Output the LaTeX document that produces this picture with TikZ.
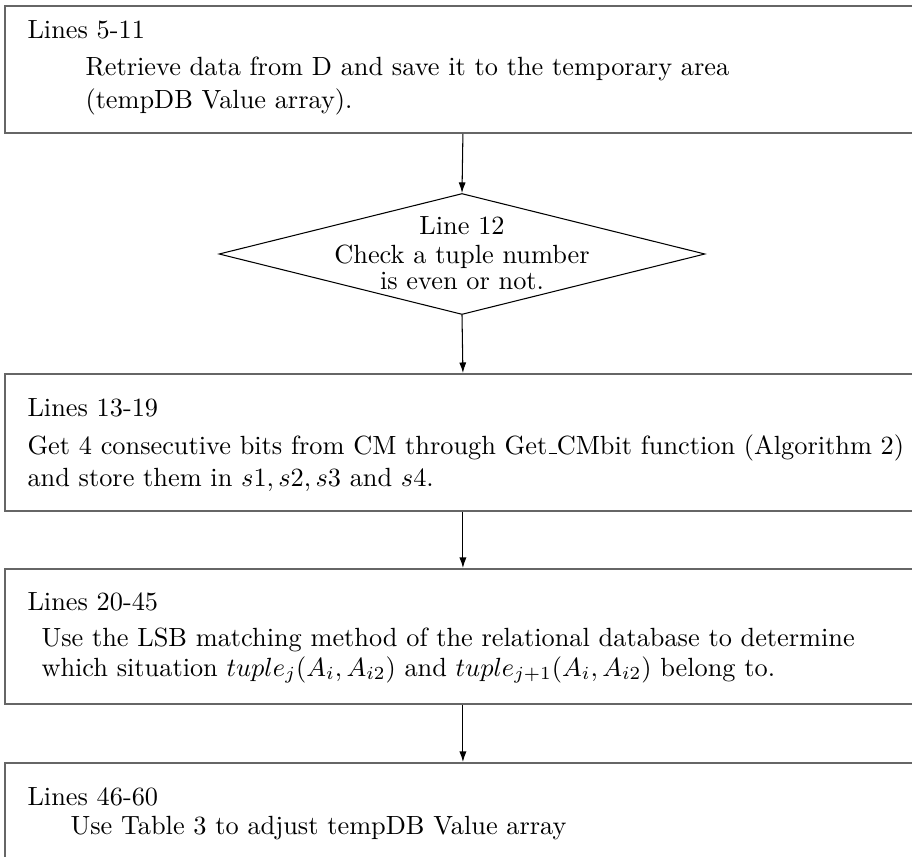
\documentclass[tikz,border=0pt]{standalone}
\usetikzlibrary{arrows.meta,shapes.geometric}
% rule-style underscore sitting on the baseline
\newcommand{\lowbar}{\leavevmode\kern.06em\vbox{\hrule width.3em}}
\begin{document}
\begin{tikzpicture}[
  x=0.38pt, y=-0.38pt,
  stagebox/.style={draw=black!60, line width=0.7pt, rectangle, inner sep=0pt,
    minimum width=916*0.38pt, anchor=north west},
  testshape/.style={draw, line width=0.4pt, diamond, inner sep=0pt,
    minimum width=486*0.38pt, minimum height=121*0.38pt},
  txt/.style={anchor=base west, inner sep=0pt, font=\fontsize{10}{12}\selectfont},
  ctxt/.style={anchor=base, inner sep=0pt, font=\fontsize{10}{12}\selectfont},
  arr/.style={-{Latex[length=4pt,width=2.7pt]}, line width=0.4pt}
]
\useasboundingbox (0,0) rectangle (912,856);
\clip (0,0) rectangle (912,856);

% stage boxes (they run past the right and bottom edges)
\node[stagebox, minimum height=127*0.38pt] (b1) at (4,5) {};
\node[stagebox, minimum height=137*0.38pt] (b2) at (4,373) {};
\node[stagebox, minimum height=135*0.38pt] (b3) at (4,568) {};
\node[stagebox, minimum height=140*0.38pt] (b4) at (4,762) {};

% decision
\node[testshape] (dia) at (462,254) {};

% texts
\node[txt] (t1a) at (27,38) {Lines 5-11};
\node[txt] (t1b) at (85,75) {Retrieve data from D and save it to the temporary area};
\node[txt] (t1c) at (85,108) {(tempDB Value array).};

\node[ctxt] (d1) at (462,234) {Line 12};
\node[ctxt] (d2) at (462,263) {Check a tuple number};
\node[ctxt] (d3) at (462,289) {is even or not.};

\node[txt] (t2a) at (27,416) {Lines 13-19};
\node[txt] (t2b) at (27,454) {Get 4 consecutive bits from CM through Get\lowbar CMbit function (Algorithm 2)};
\node[txt] (t2c) at (27,486) {and store them in $s1, s2, s3$ and $s4$.};

\node[txt] (t3a) at (27,610) {Lines 20-45};
\node[txt] (t3b) at (41,646) {Use the LSB matching method of the relational database to determine};
\node[txt] (t3c) at (41,676) {which situation $tuple_j(A_i, A_{i2})$ and $tuple_{j+1}(A_i, A_{i2})$ belong to.};

\node[txt] (t4a) at (27,805) {Lines 46-60};
\node[txt] (t4b) at (70,834) {Use Table 3 to adjust tempDB Value array};

% flow
\draw[arr] (b1.south) -- (dia.north);
\draw[arr] (dia.south) -- (b2.north);
\draw[arr] (b2.south) -- (b3.north);
\draw[arr] (b3.south) -- (b4.north);
\end{tikzpicture}
\end{document}
